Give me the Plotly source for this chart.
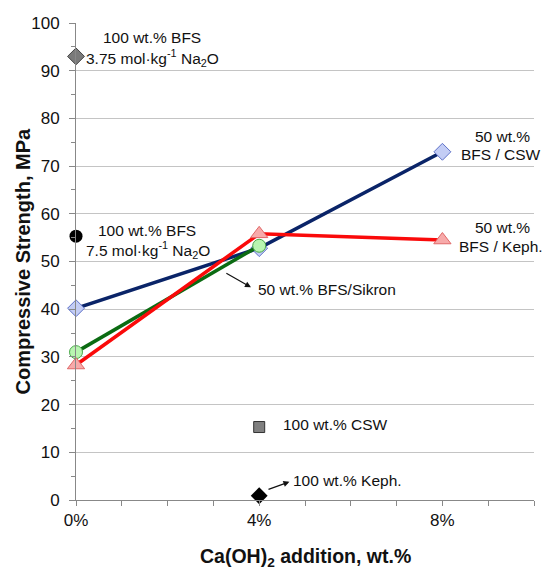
import plotly.graph_objects as go

# ---- data ----
ca_oh_pct = [0, 4, 8]
bfs_csw = [40.2, 52.8, 73.0]
bfs_keph = [28.3, 55.8, 54.5]
ca_oh_sikron = [0, 4]
bfs_sikron = [31.0, 53.3]
bfs_375_x = [0]
bfs_375_y = [93.0]
bfs_75_x = [0]
bfs_75_y = [55.3]
csw_x = [4]
csw_y = [15.3]
keph_x = [4]
keph_y = [0.9]

x_tickvals = [0, 4, 8]
x_ticktext = ["0%", "4%", "8%"]
y_tickvals = [0, 10, 20, 30, 40, 50, 60, 70, 80, 90, 100]

FONT = "Liberation Sans, Arial, sans-serif"

fig = go.Figure()

fig.add_trace(go.Scatter(
    x=ca_oh_pct, y=bfs_csw, mode="lines+markers",
    line=dict(color="#0a2468", width=3.5),
    marker=dict(symbol="diamond", size=13, color="#c3cdf5",
                line=dict(color="#5f72c8", width=1)),
    showlegend=False, cliponaxis=False))
fig.add_trace(go.Scatter(
    x=ca_oh_sikron, y=bfs_sikron, mode="lines+markers",
    line=dict(color="#0b6b12", width=3.5),
    marker=dict(symbol="circle", size=13, color="#b8f5b0",
                line=dict(color="#4aa84a", width=1)),
    showlegend=False, cliponaxis=False))
fig.add_trace(go.Scatter(
    x=ca_oh_pct, y=bfs_keph, mode="lines+markers",
    line=dict(color="#fa0a0a", width=3.5),
    marker=dict(symbol="triangle-up", size=15, color="#f7aaaa",
                line=dict(color="#e06868", width=1)),
    showlegend=False, cliponaxis=False))
fig.add_trace(go.Scatter(
    x=bfs_375_x, y=bfs_375_y, mode="markers",
    marker=dict(symbol="diamond", size=13, color="#7a7a7a",
                line=dict(color="#444444", width=1)),
    showlegend=False, cliponaxis=False))
fig.add_trace(go.Scatter(
    x=bfs_75_x, y=bfs_75_y, mode="markers",
    marker=dict(symbol="circle", size=13, color="#000000"),
    showlegend=False, cliponaxis=False))
fig.add_trace(go.Scatter(
    x=csw_x, y=csw_y, mode="markers",
    marker=dict(symbol="square", size=11, color="#808080",
                line=dict(color="#333333", width=1)),
    showlegend=False))
fig.add_trace(go.Scatter(
    x=keph_x, y=keph_y, mode="markers",
    marker=dict(symbol="diamond", size=13, color="#000000"),
    showlegend=False, cliponaxis=False))

tf = dict(family=FONT, size=15.5, color="#111111")

def label(x, y, text, xanchor="center"):
    fig.add_annotation(x=x, y=y, xref="x", yref="y", text=text,
                       showarrow=False, xanchor=xanchor, yanchor="middle",
                       font=tf)

label(1.66, 96.9, "100 wt.% BFS")
label(1.66, 92.7, "3.75 mol·kg<sup>-1</sup> Na<sub>2</sub>O")
label(1.56, 56.5, "100 wt.% BFS")
label(1.57, 52.5, "7.5 mol·kg<sup>-1</sup> Na<sub>2</sub>O")
label(3.92, 44.1, "50 wt.% BFS/Sikron", xanchor="left")
label(9.32, 76.2, "50 wt.%")
label(9.28, 72.4, "BFS / CSW")
label(9.32, 57.1, "50 wt.%")
label(9.28, 53.1, "BFS / Keph.")
label(4.48, 15.9, "100 wt.% CSW", xanchor="left")
label(4.70, 4.0, "100 wt.% Keph.", xanchor="left")

# arrows
fig.add_annotation(x=3.82, y=44.6, ax=3.25, ay=47.7, xref="x", yref="y",
                   axref="x", ayref="y", text="", showarrow=True,
                   arrowhead=2, arrowsize=1, arrowwidth=1.2, arrowcolor="#111111")
fig.add_annotation(x=4.66, y=3.8, ax=4.17, ay=2.1, xref="x", yref="y",
                   axref="x", ayref="y", text="", showarrow=True,
                   arrowhead=2, arrowsize=1, arrowwidth=1.2, arrowcolor="#111111")

# axis titles
fig.add_annotation(x=0.5, y=0, xref="paper", yref="paper", yshift=-57,
                   text="<b>Ca(OH)<sub>2</sub> addition, wt.%</b>",
                   showarrow=False, xanchor="center", yanchor="middle",
                   font=dict(family=FONT, size=19.5, color="#111111"))
fig.add_annotation(x=0, y=0.5, xref="paper", yref="paper", xshift=-54,
                   text="<b>Compressive Strength, MPa</b>", textangle=-90,
                   showarrow=False, xanchor="center", yanchor="middle",
                   font=dict(family=FONT, size=20, color="#111111"))

fig.update_xaxes(range=[0, 10], tickvals=x_tickvals, ticktext=x_ticktext,
                 ticks="outside", ticklen=5, tickcolor="#888888",
                 showline=True, linecolor="#888888", linewidth=1,
                 showgrid=False, zeroline=False,
                 minor=dict(ticks="outside", dtick=1, ticklen=5,
                            tickcolor="#888888", showgrid=False),
                 tickfont=dict(family=FONT, size=17, color="#111111"))
fig.update_yaxes(range=[0, 100], tickvals=y_tickvals,
                 ticks="outside", ticklen=6, tickcolor="#888888",
                 ticklabelstandoff=6,
                 showline=True, linecolor="#888888", linewidth=1,
                 showgrid=True, gridcolor="#c4c4c4", gridwidth=1.3,
                 zeroline=False,
                 minor=dict(ticks="outside", dtick=5, ticklen=4,
                            tickcolor="#888888", showgrid=False),
                 tickfont=dict(family=FONT, size=17, color="#111111"))

fig.update_layout(width=542, height=569,
                  margin=dict(l=76, r=8, t=23, b=69),
                  plot_bgcolor="#ffffff", paper_bgcolor="#ffffff",
                  showlegend=False)

fig.write_html("out.html", config={"displayModeBar": False},
               post_script="document.body.style.margin='0';"
                           "document.body.style.overflow='hidden';")
